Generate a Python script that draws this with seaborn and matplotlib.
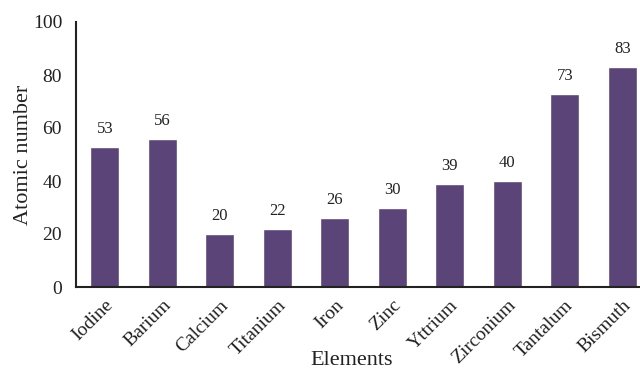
import matplotlib
matplotlib.use("Agg")
import matplotlib.pyplot as plt
import seaborn as sns
import pandas as pd

elements = ["Iodine", "Barium", "Calcium", "Titanium", "Iron", "Zinc",
            "Yttrium", "Zirconium", "Tantalum", "Bismuth"]
atomic_numbers = [53, 56, 20, 22, 26, 30, 39, 40, 73, 83]

df = pd.DataFrame({"Elements": elements, "Atomic number": atomic_numbers})

sns.set_style("white")
plt.rcParams["font.family"] = ["Liberation Serif", "DejaVu Serif"]

fig = plt.figure(figsize=(6.4, 3.7), dpi=100)
ax = fig.add_axes([76/640, 83/370, 575/640, 265/370])
sns.barplot(data=df, x="Elements", y="Atomic number", color="#5b4477",
            width=0.5, saturation=1, ax=ax)

ax.set_ylim(0, 100)
ax.set_xlim(-0.5, 9.5)
ax.set_yticks([0, 20, 40, 60, 80, 100])
ax.tick_params(axis="y", length=0, pad=10, labelsize=14, colors="#222222")
ax.tick_params(axis="x", length=0, pad=7, labelsize=14, colors="#222222")
plt.setp(ax.get_xticklabels(), rotation=45, ha="right", rotation_mode="anchor")

for c in ax.containers:
    ax.bar_label(c, labels=[str(v) for v in atomic_numbers], padding=7,
                 fontsize=12, color="#222222")

for s in ["top", "right"]:
    ax.spines[s].set_visible(False)
for s in ["left", "bottom"]:
    ax.spines[s].set_color("#222222")
    ax.spines[s].set_linewidth(1.5)

ax.set_ylabel("Atomic number", fontsize=16, color="#222222", labelpad=0)
ax.set_xlabel("Elements", fontsize=16, color="#222222")
ax.xaxis.set_label_coords(0.48, -0.24)

fig.savefig("out.png", dpi=100)
